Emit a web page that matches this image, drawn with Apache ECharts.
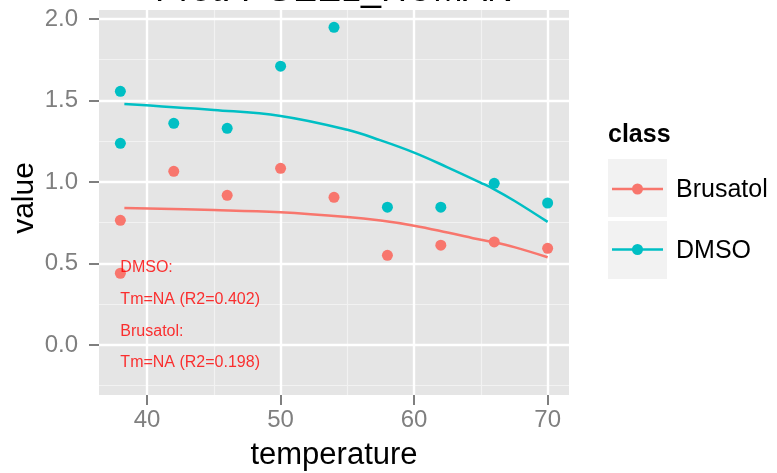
<!DOCTYPE html>
<html>
<head>
<meta charset="utf-8">
<script src="https://cdn.jsdelivr.net/npm/echarts@6/dist/echarts.min.js"></script>
<style>html,body{margin:0;padding:0;background:#fff}#chart{width:777px;height:473px}</style>
</head>
<body>
<div id="chart"></div>
<script>
// ---- data ----
const titleText = 'Prot: PGEE1_HUMAN';
const classes = ['Brusatol', 'DMSO'];
const colors = ['#F8766D', '#00BFC4'];
const pointTemp = [38, 38, 42, 46, 50, 54, 58, 62, 66, 70];
const brusatolValue = [0.765, 0.440, 1.065, 0.918, 1.084, 0.906, 0.550, 0.612, 0.632, 0.593];
const dmsoValue = [1.556, 1.237, 1.360, 1.329, 1.710, 1.949, 0.845, 0.845, 0.992, 0.871];
const fitTemp = [38.3, 45, 50, 55, 57.5, 60, 62.5, 65, 66, 67.5, 70];
const brusatolFit = [0.840, 0.828, 0.814, 0.785, 0.763, 0.732, 0.690, 0.645, 0.630, 0.600, 0.538];
const dmsoFit = [1.479, 1.442, 1.405, 1.320, 1.255, 1.180, 1.090, 0.995, 0.955, 0.885, 0.755];
const xTicks = [40, 50, 60, 70];
const xMinor = [45, 55, 65];
const yTicks = [0, 0.5, 1.0, 1.5, 2.0];
const yMinor = [-0.25, 0.25, 0.75, 1.25, 1.75];
const annotationX = 38;
const annotationY = [0.475, 0.28, 0.085, -0.11];
const annotationText = ['DMSO:', 'Tm=NA (R2=0.402)', 'Brusatol:', 'Tm=NA (R2=0.198)'];
const xRange = [36.4, 71.6];
const yRange = [-0.307, 2.055];

const FONT = 'Liberation Sans, Arial, sans-serif';
const pairs = (xs, ys) => xs.map((x, i) => [x, ys[i]]);

const chart = echarts.init(document.getElementById('chart'), null, {renderer: 'canvas'});

const gridLines = [];
xTicks.forEach(v => gridLines.push({xAxis: v}));
yTicks.forEach(v => gridLines.push({yAxis: v}));
const minorLines = [];
xMinor.forEach(v => minorLines.push({xAxis: v}));
yMinor.forEach(v => minorLines.push({yAxis: v}));

const hiddenLine = {show: true, onZero: false, lineStyle: {color: '#ffffff', opacity: 0, width: 0.01}};

const option = {
  animation: false,
  backgroundColor: '#ffffff',
  textStyle: {fontFamily: FONT},
  grid: {left: 99, right: 208, top: 10, bottom: 78, show: true, backgroundColor: '#E5E5E5', borderWidth: 0},
  xAxis: {
    type: 'value', min: xRange[0], max: xRange[1],
    splitLine: {show: false},
    axisLine: hiddenLine,
    axisTick: {show: true, customValues: xTicks, length: 10, lineStyle: {color: '#7f7f7f', width: 2}},
    axisLabel: {customValues: xTicks, color: '#7f7f7f', fontSize: 24, fontFamily: FONT, margin: 13}
  },
  yAxis: {
    type: 'value', min: yRange[0], max: yRange[1],
    splitLine: {show: false},
    axisLine: hiddenLine,
    axisTick: {show: true, customValues: yTicks, length: 10, lineStyle: {color: '#7f7f7f', width: 2}},
    axisLabel: {customValues: yTicks, color: '#7f7f7f', fontSize: 24, fontFamily: FONT, margin: 21,
      formatter: v => v.toFixed(1)}
  },
  series: [
    {type: 'line', data: [], z: 1, silent: true,
      markLine: {z: 1, silent: true, symbol: ['none', 'none'], label: {show: false}, animation: false,
        lineStyle: {type: 'solid', color: '#F2F2F2', width: 1.2}, emphasis: {disabled: true}, data: minorLines}},
    {type: 'line', data: [], z: 1, silent: true,
      markLine: {z: 1, silent: true, symbol: ['none', 'none'], label: {show: false}, animation: false,
        lineStyle: {type: 'solid', color: '#ffffff', width: 2.4}, emphasis: {disabled: true}, data: gridLines}},
    {name: 'Brusatol', type: 'scatter', z: 3, data: pairs(pointTemp, brusatolValue), symbolSize: 11,
      itemStyle: {color: colors[0], opacity: 1}},
    {name: 'DMSO', type: 'scatter', z: 3, data: pairs(pointTemp, dmsoValue), symbolSize: 11,
      itemStyle: {color: colors[1], opacity: 1}},
    {name: 'Brusatol fit', type: 'line', z: 4, data: pairs(fitTemp, brusatolFit), smooth: 0.4, showSymbol: false,
      lineStyle: {color: colors[0], width: 2.5}},
    {name: 'DMSO fit', type: 'line', z: 4, data: pairs(fitTemp, dmsoFit), smooth: 0.4, showSymbol: false,
      lineStyle: {color: colors[1], width: 2.5}},
    {type: 'scatter', z: 5, symbolSize: 0, silent: true,
      data: annotationText.map((t, i) => ({name: t, value: [annotationX, annotationY[i]]})),
      label: {show: true, position: 'right', distance: 0, formatter: '{b}', color: '#FF0000',
        fontSize: 16, fontFamily: FONT}}
  ],
  graphic: [
    {type: 'text', x: 334, y: -9, style: {text: titleText, font: '36px ' + FONT, fill: '#000', align: 'center', verticalAlign: 'middle'}},
    {type: 'text', x: 334, y: 455, style: {text: 'temperature', font: '31px ' + FONT, fill: '#000', align: 'center', verticalAlign: 'middle'}},
    {type: 'text', x: 25, y: 198, rotation: Math.PI / 2, style: {text: 'value', font: '30px ' + FONT, fill: '#000', align: 'center', verticalAlign: 'middle'}},
    {type: 'text', x: 608, y: 135, style: {text: 'class', font: 'bold 25px ' + FONT, fill: '#000', align: 'left', verticalAlign: 'middle'}},
    {type: 'rect', shape: {x: 608, y: 159, width: 59, height: 58}, style: {fill: '#F2F2F2'}},
    {type: 'rect', shape: {x: 608, y: 221, width: 59, height: 58}, style: {fill: '#F2F2F2'}},
    {type: 'line', shape: {x1: 612, y1: 189, x2: 663, y2: 189}, style: {stroke: colors[0], lineWidth: 2.5}},
    {type: 'circle', shape: {cx: 637.5, cy: 189, r: 5.5}, style: {fill: colors[0]}},
    {type: 'line', shape: {x1: 612, y1: 249.5, x2: 663, y2: 249.5}, style: {stroke: colors[1], lineWidth: 2.5}},
    {type: 'circle', shape: {cx: 637.5, cy: 249.5, r: 5.5}, style: {fill: colors[1]}},
    {type: 'text', x: 676, y: 190, style: {text: classes[0], font: '25px ' + FONT, fill: '#000', align: 'left', verticalAlign: 'middle'}},
    {type: 'text', x: 676, y: 251, style: {text: classes[1], font: '25px ' + FONT, fill: '#000', align: 'left', verticalAlign: 'middle'}}
  ]
};
chart.setOption(option);
</script>
</body>
</html>
